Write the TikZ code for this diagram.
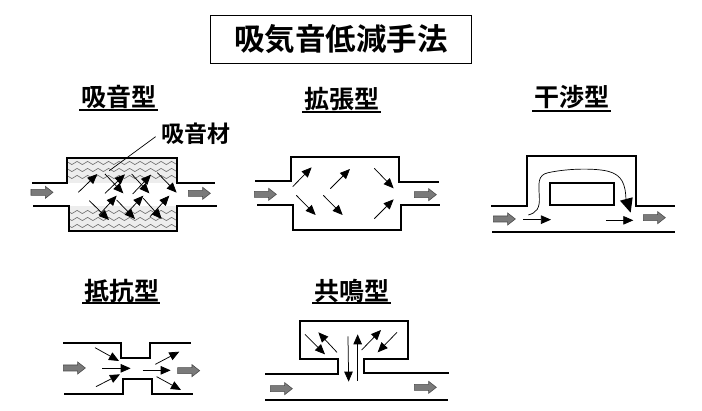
\documentclass[tikz,border=0pt]{standalone}
\usepackage{fontspec}
\setmainfont{Noto Sans CJK JP Bold}
\usetikzlibrary{arrows.meta,decorations.pathmorphing}
\tikzset{
  x=1pt,y=-1pt,
  duct/.style={line width=1.8pt,line join=miter,line cap=butt},
  flow/.style={line width=0.75pt,-{Triangle[length=10pt,width=8.5pt]}},
  wave/.style={line width=0.65pt,draw=black!55,decorate,decoration={snake,amplitude=1.6pt,segment length=10.5pt}},
  heading/.style={inner sep=0pt,font=\fontsize{25}{25}\selectfont},
  rule/.style={line width=1.1pt},
  zoomed/.style={x=0.3333pt,y=-0.3333pt},
}
% grey block arrow pointing right, from x=#1 along centre line y=#2
\newcommand{\blockarrow}[2]{%
  \draw[fill=black!52,draw=black!70,line width=0.6pt]
    (#1,#2-9)--(#1+43,#2-9)--(#1+43,#2-18)--(#1+66,#2)--(#1+43,#2+18)--(#1+43,#2+9)--(#1,#2+9)--cycle;}
\begin{document}
\begin{tikzpicture}
\useasboundingbox (0,0) rectangle (702,410);
\fill[white] (0,0) rectangle (702,410);

% title
\node[draw,line width=1.8pt,minimum width=261pt,minimum height=48pt,inner sep=0pt,font=\fontsize{30.5}{31}\selectfont] (title) at (341,39.5) {吸気音低減手法};

% headings
\node[heading] (h1) at (119,97) {吸音型};
\node[heading] (h2) at (341.5,99) {拡張型};
\node[heading] (h3) at (571.5,97) {干渉型};
\node[heading] (h4) at (121.5,291) {抵抗型};
\node[heading] (h5) at (351.5,291) {共鳴型};
\draw[rule] (79,110)--(158,110);
\draw[rule] (302,112)--(381,112);
\draw[rule] (532,111)--(611,111);
\draw[rule] (82,303)--(160,303);
\draw[rule] (312,303)--(391,303);

% absorption type
\begin{scope}[shift={(20,80)},zoomed]
  \begin{scope}
    \clip (142,233) rectangle (470,308);
    \fill[black!7] (142,233) rectangle (470,308);
    \foreach \y in {249,270,291}{\draw[wave] (130,\y)--(490,\y);}
  \end{scope}
  \begin{scope}
    \clip (148,378) rectangle (472,453);
    \fill[black!7] (148,378) rectangle (472,453);
    \foreach \y in {396,417,438}{\draw[wave] (130,\y)--(490,\y);}
  \end{scope}
  \draw[duct] (36,308)--(142,308)--(142,233)--(470,233)--(470,308)--(585,308);
  \draw[duct] (40,378)--(148,378)--(148,453)--(472,453)--(472,378)--(590,378);
  \blockarrow{33}{337}
  \blockarrow{505}{340}
  \foreach \a/\b/\c/\d in {175/337/232/282,255/282/310/340,255/340/315/283,335/282/388/340,338/342/393/284,412/278/470/338,
                           208/362/267/420,237/405/290/347,290/360/345/417,315/405/370/347,370/355/425/417,390/410/448/347}
    {\draw[flow] (\a,\b)--(\c,\d);}
  \node[inner sep=0pt,font=\fontsize{23}{23}\selectfont] (mat) at (528,161) {吸音材};
  \coordinate (matend) at (268,272);
  \draw[line width=0.7pt] (407,170)--(matend);
\end{scope}

% expansion type
\begin{scope}[shift={(245,80)},zoomed]
  \draw[duct] (30,304)--(137,304)--(137,231)--(463,231)--(463,305)--(582,305);
  \draw[duct] (37,375)--(143,375)--(143,449)--(467,449)--(467,375)--(585,375);
  \blockarrow{28}{343}
  \blockarrow{508}{344}
  \foreach \a/\b/\c/\d in {143/320/200/262,256/326/315/267,388/265/446/325,154/346/212/405,235/346/293/405,388/416/446/358}
    {\draw[flow] (\a,\b)--(\c,\d);}
\end{scope}

% interference type
\begin{scope}[shift={(480,80)},zoomed]
  \draw[duct] (33,377)--(140,377)--(140,228)--(467,228)--(467,378)--(585,378);
  \draw[duct] (37,455)--(585,455);
  \draw[duct] (210,309) rectangle (402,375);
  \blockarrow{40}{417}
  \blockarrow{490}{413}
  \draw[flow] (130,419)--(213,419);
  \draw[flow] (378,421)--(460,421);
  \draw[line width=0.7pt] (145,405) .. controls (170,398) and (180,385) .. (178,350)
     .. controls (176,310) and (172,285) .. (205,278)
     .. controls (270,264) and (350,265) .. (385,274)
     .. controls (425,285) and (437,310) .. (438,362);
  \fill (420,362)--(458,352)--(452,398)--cycle;
\end{scope}

% resistance type
\begin{scope}[shift={(50,275)},zoomed]
  \draw[duct] (40,204)--(213,204)--(213,248)--(300,248)--(300,204)--(422,204);
  \draw[duct] (43,357)--(218,357)--(218,312)--(305,312)--(305,358)--(428,358);
  \blockarrow{40}{279}
  \blockarrow{383}{287}
  \foreach \a/\b/\c/\d in {135/218/207/258,157/280/242/280,138/335/210/298,278/286/362/286,316/268/388/230,320/305/393/345}
    {\draw[flow] (\a,\b)--(\c,\d);}
\end{scope}

% resonance type
\begin{scope}[shift={(255,275)},zoomed]
  \draw[duct] (30,297)--(248,297)--(248,251)--(134,251)--(134,137)--(458,137)--(458,251)--(326,251)--(326,293)--(581,293);
  \draw[duct] (30,375)--(578,375);
  \blockarrow{46}{341}
  \blockarrow{478}{337}
  \foreach \a/\b/\c/\d in {150/178/210/238,246/232/190/172,279/184/281/320,308/318/308/178,320/225/378/165,426/172/368/232}
    {\draw[flow] (\a,\b)--(\c,\d);}
\end{scope}
\end{tikzpicture}
\end{document}
